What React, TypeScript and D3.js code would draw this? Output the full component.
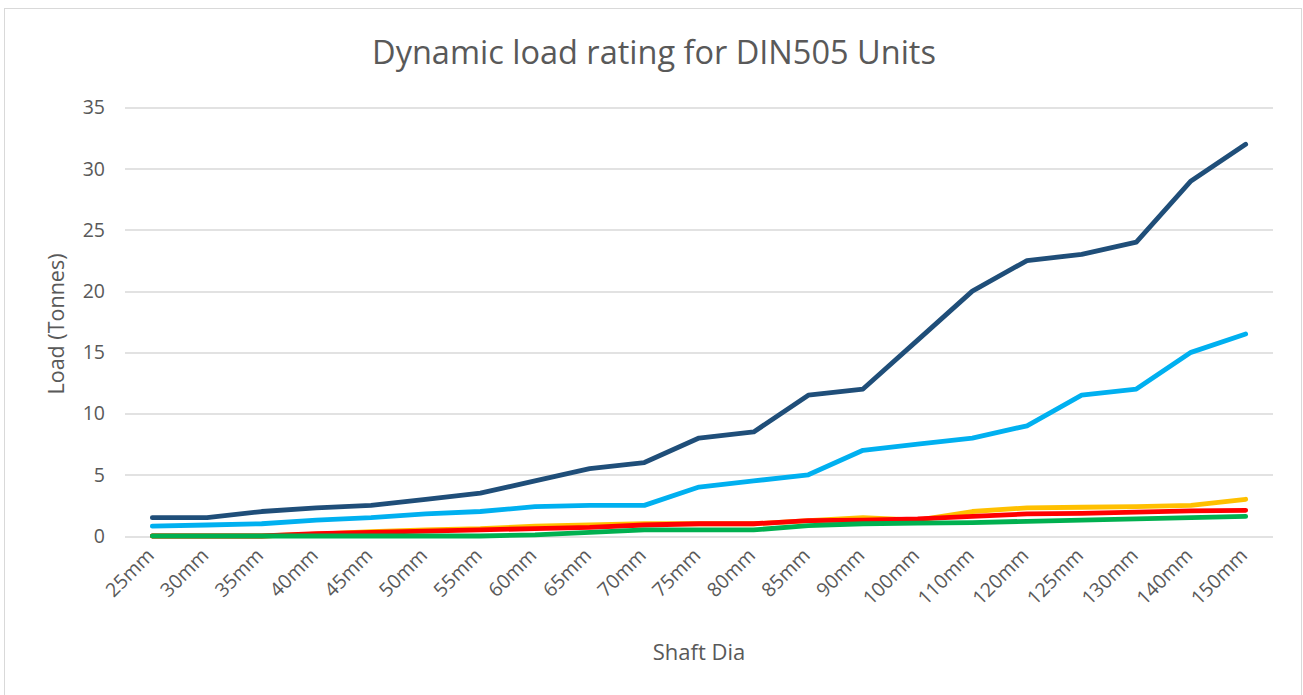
import React, { useEffect, useRef } from "react";
import * as d3 from "d3";

const categories = [
  "25mm", "30mm", "35mm", "40mm", "45mm", "50mm", "55mm", "60mm", "65mm", "70mm",
  "75mm", "80mm", "85mm", "90mm", "100mm", "110mm", "120mm", "125mm", "130mm", "140mm", "150mm",
];

const navySeries = [1.5, 1.5, 2, 2.3, 2.5, 3, 3.5, 4.5, 5.5, 6, 8, 8.5, 11.5, 12, 16, 20, 22.5, 23, 24, 29, 32];
const blueSeries = [0.8, 0.9, 1.0, 1.3, 1.5, 1.8, 2.0, 2.4, 2.5, 2.5, 4, 4.5, 5, 7, 7.5, 8, 9, 11.5, 12, 15, 16.5];
const yellowSeries = [0, 0, 0, 0.15, 0.35, 0.5, 0.6, 0.8, 0.9, 1.0, 1.0, 1.0, 1.25, 1.5, 1.3, 2.0, 2.3, 2.35, 2.4, 2.5, 3.0];
const redSeries = [0, 0, 0, 0.2, 0.3, 0.4, 0.5, 0.6, 0.7, 0.9, 1.0, 1.0, 1.25, 1.3, 1.4, 1.6, 1.8, 1.85, 1.95, 2.05, 2.1];
const greenSeries = [0, 0, 0, 0, 0, 0, 0, 0.1, 0.3, 0.5, 0.5, 0.5, 0.85, 1.0, 1.05, 1.1, 1.2, 1.3, 1.4, 1.5, 1.6];

const yTicks = [0, 5, 10, 15, 20, 25, 30, 35];

const series = [
  { name: "navy", values: navySeries, color: "#1F4E79" },
  { name: "blue", values: blueSeries, color: "#00B0F0" },
  { name: "yellow", values: yellowSeries, color: "#FFC000" },
  { name: "red", values: redSeries, color: "#FF0000" },
  { name: "green", values: greenSeries, color: "#00B050" },
];

const W = 1303;
const H = 695;
const font = "'Open Sans', 'Liberation Sans', sans-serif";

export default function App() {
  const ref = useRef<SVGSVGElement>(null);

  useEffect(() => {
    const svg = d3.select(ref.current);
    svg.selectAll("*").remove();

    const margin = { top: 107.5, left: 125 };
    const width = 1273 - margin.left;
    const height = 536 - margin.top;

    // chart border
    svg.append("rect")
      .attr("x", 4.5).attr("y", 8.5)
      .attr("width", 1297).attr("height", 700)
      .attr("fill", "#fff").attr("stroke", "#d9d9d9");

    svg.append("text")
      .attr("x", 654).attr("y", 64)
      .attr("text-anchor", "middle")
      .style("font-family", font).style("font-size", "32.5px")
      .attr("fill", "#595959")
      .text("Dynamic load rating for DIN505 Units");

    const g = svg.append("g").attr("transform", `translate(${margin.left}, ${margin.top})`);

    const x = d3.scaleBand().domain(categories).range([0, width]);
    const y = d3.scaleLinear().domain([0, 35]).range([height, 0]);

    // grid + y labels
    g.selectAll(".grid")
      .data(yTicks)
      .join("line")
      .attr("x1", 0).attr("x2", width)
      .attr("y1", (d) => Math.round(y(d)) + 0.5).attr("y2", (d) => Math.round(y(d)) + 0.5)
      .attr("stroke", "#d9d9d9").attr("stroke-width", 1.3);

    g.selectAll(".ylab")
      .data(yTicks)
      .join("text")
      .attr("x", -20).attr("y", (d) => y(d))
      .attr("dy", "0.35em")
      .attr("text-anchor", "end")
      .style("font-family", font).style("font-size", "19.5px")
      .attr("fill", "#595959")
      .text((d) => d);

    // x labels
    g.selectAll(".xlab")
      .data(categories)
      .join("text")
      .attr("transform", (d) => `translate(${x(d)! + x.bandwidth() / 2 - 2}, ${height + 16}) rotate(-45)`)
      .attr("text-anchor", "end")
      .attr("dy", "0.35em")
      .style("font-family", font).style("font-size", "19.5px")
      .attr("fill", "#595959")
      .text((d) => d);

    const line = d3.line<number>()
      .x((_, i) => x(categories[i])! + x.bandwidth() / 2)
      .y((d) => y(d));

    series.forEach((s) => {
      g.append("path")
        .datum(s.values)
        .attr("d", line)
        .attr("fill", "none")
        .attr("stroke", s.color)
        .attr("stroke-width", 4.8)
        .attr("stroke-linecap", "round")
        .attr("stroke-linejoin", "round");
    });

    svg.append("text")
      .attr("transform", "translate(64, 324) rotate(-90)")
      .attr("text-anchor", "middle")
      .style("font-family", font).style("font-size", "21.5px")
      .attr("fill", "#595959")
      .text("Load (Tonnes)");

    svg.append("text")
      .attr("x", 699).attr("y", 660)
      .attr("text-anchor", "middle")
      .style("font-family", font).style("font-size", "22px")
      .attr("fill", "#595959")
      .text("Shaft Dia");
  }, []);

  return (
    <svg
      ref={ref}
      width={W}
      height={H}
      style={{ position: "fixed", left: 0, top: 0, display: "block", background: "#fff" }}
    />
  );
}
